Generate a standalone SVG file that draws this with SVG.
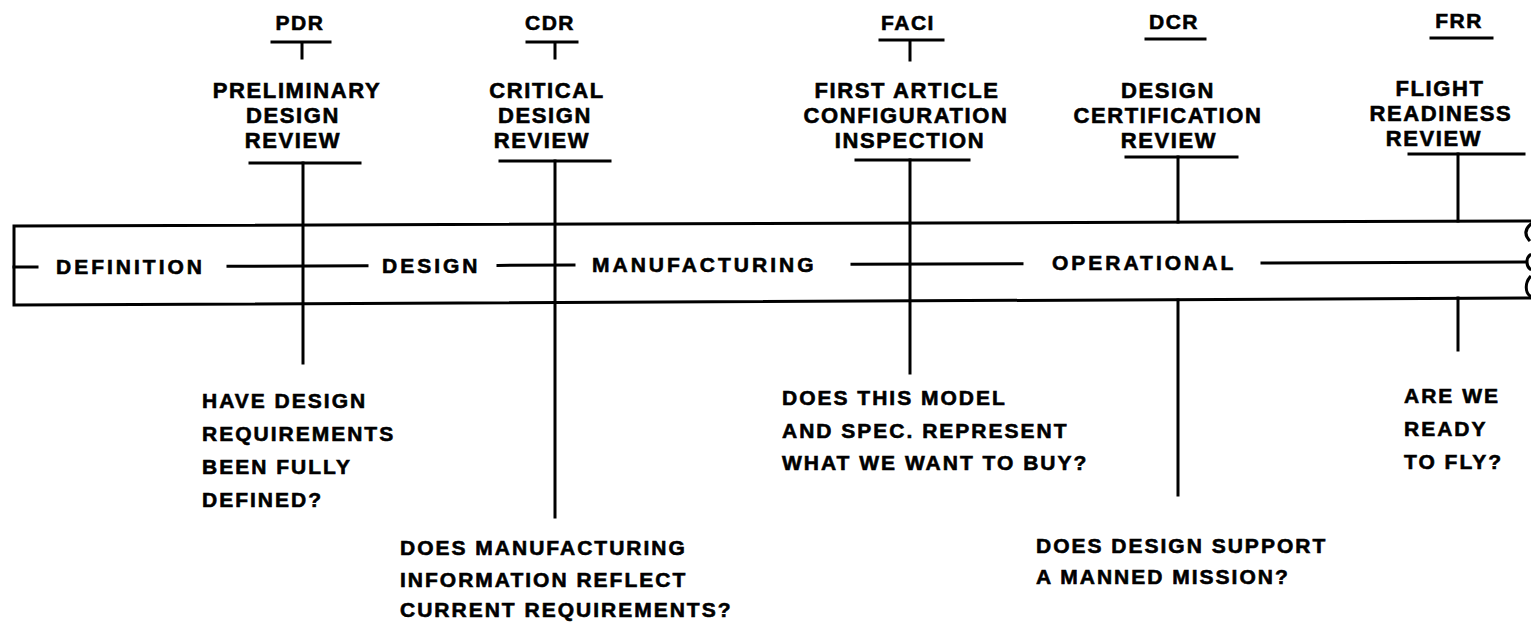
<svg xmlns="http://www.w3.org/2000/svg" width="1531" height="627" viewBox="0 0 1531 627">
<style>
text{font-family:"Liberation Sans",Arial,sans-serif;font-weight:bold;fill:#000;stroke:#000;stroke-width:0.6px;}
.h{font-size:22px;letter-spacing:1.6px;text-anchor:middle;}
.ab{font-size:21px;letter-spacing:1.5px;text-anchor:middle;}
.q{font-size:21px;letter-spacing:2px;}
.ph{font-size:21px;letter-spacing:3px;}
.ln{stroke:#000;stroke-width:3;fill:none;stroke-linecap:square;}
</style>
<rect width="1531" height="627" fill="#fff"/>
<g id="timeline">
<path class="ln" d="M1531,221 L14,226 L14,305 L1531,298"/>
<path class="ln" d="M14,267 L37,267 M228,266.3 L367,265.8 M498,265.4 L574,265.1 M852,264.3 L1022,263.7 M1262,263 L1525,262.1"/>
<path class="ln" stroke-linecap="round" stroke-width="2.5" d="M1531,224 C1525,229 1524,234 1529,240 M1530,255 C1526,258 1526,266 1530,269 M1530,277 C1525,283 1525,292 1530,296"/>
<text class="ph" x="56" y="274">DEFINITION</text>
<text class="ph" x="382" y="273">DESIGN</text>
<text class="ph" x="592" y="272">MANUFACTURING</text>
<text class="ph" x="1052" y="270">OPERATIONAL</text>
</g>
<g id="pdr">
<text class="ab" x="300" y="30">PDR</text>
<path class="ln" d="M272,42 L330,42 M302,42 L302,58 M250,163 L360,163"/>
<text class="h" x="297" y="98">PRELIMINARY</text>
<text class="h" x="293" y="123">DESIGN</text>
<text class="h" x="293" y="148">REVIEW</text>
<text class="q" x="202" y="408">HAVE DESIGN</text>
<text class="q" x="202" y="441">REQUIREMENTS</text>
<text class="q" x="202" y="474">BEEN FULLY</text>
<text class="q" x="202" y="507">DEFINED?</text>
</g>
<g id="cdr">
<text class="ab" x="550" y="30">CDR</text>
<path class="ln" d="M527,42 L577,42 M555,42 L555,58 M500,161 L610,161"/>
<text class="h" x="547" y="98">CRITICAL</text>
<text class="h" x="545" y="123">DESIGN</text>
<text class="h" x="542" y="148">REVIEW</text>
<text class="q" x="400" y="555">DOES MANUFACTURING</text>
<text class="q" x="400" y="587">INFORMATION REFLECT</text>
<text class="q" x="400" y="617">CURRENT REQUIREMENTS?</text>
</g>
<g id="faci">
<text class="ab" x="908" y="30">FACI</text>
<path class="ln" d="M880,40 L943,40 M910,40 L910,60 M856,160 L969,160"/>
<text class="h" x="907" y="98">FIRST ARTICLE</text>
<text class="h" x="906" y="123">CONFIGURATION</text>
<text class="h" x="910" y="148">INSPECTION</text>
<text class="q" x="782" y="405">DOES THIS MODEL</text>
<text class="q" x="782" y="438">AND SPEC. REPRESENT</text>
<text class="q" x="782" y="470">WHAT WE WANT TO BUY?</text>
</g>
<g id="dcr">
<text class="ab" x="1174" y="29">DCR</text>
<path class="ln" d="M1146,39 L1205,39 M1126,157 L1237,157"/>
<text class="h" x="1168" y="98">DESIGN</text>
<text class="h" x="1168" y="123">CERTIFICATION</text>
<text class="h" x="1169" y="148">REVIEW</text>
<text class="q" x="1036" y="553">DOES DESIGN SUPPORT</text>
<text class="q" x="1036" y="584">A MANNED MISSION?</text>
</g>
<g id="frr">
<text class="ab" x="1459" y="28">FRR</text>
<path class="ln" d="M1431,38 L1492,38 M1409,154 L1524,154"/>
<text class="h" x="1440" y="96">FLIGHT</text>
<text class="h" x="1441" y="121">READINESS</text>
<text class="h" x="1434" y="146">REVIEW</text>
<text class="q" x="1404" y="403">ARE WE</text>
<text class="q" x="1404" y="436">READY</text>
<text class="q" x="1404" y="469">TO FLY?</text>
</g>
<g id="connectors">
<path class="ln" d="M303,163 L303,363"/>
<path class="ln" d="M555,161 L555,517"/>
<path class="ln" d="M910,160 L910,373"/>
<path class="ln" d="M1178,157 L1178,222 M1178,300 L1178,495"/>
<path class="ln" d="M1458,154 L1458,221 M1458,298 L1458,350"/>
</g>
</svg>
